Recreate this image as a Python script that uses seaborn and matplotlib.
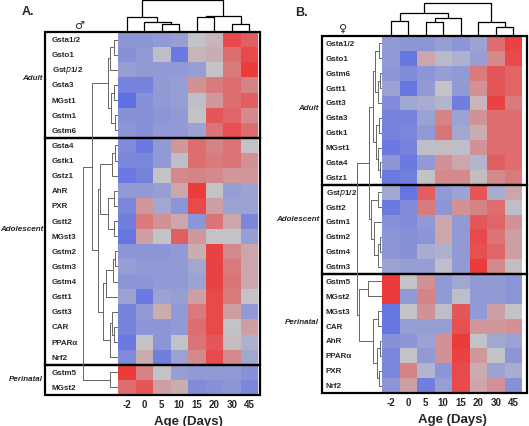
import matplotlib
matplotlib.use("Agg")
import matplotlib.pyplot as plt
from matplotlib.colors import LinearSegmentedColormap
from matplotlib.patches import Rectangle
import pandas as pd
import seaborn as sns

# ---- data ----
ages = ["-2", "0", "5", "10", "15", "20", "30", "45"]

# panel A (male)
genes_a = ["Gsta1/2", "Gsto1", "Gstp1/2", "Gsta3", "MGst1", "Gstm1", "Gstm6",
           "Gsta4", "Gstk1", "Gstz1", "AhR", "PXR", "Gstt2", "MGst3", "Gstm2",
           "Gstm3", "Gstm4", "Gstt1", "Gstt3", "CAR", "PPARα", "Nrf2",
           "Gstm5", "MGst2"]
vals_a = [
    [-0.50, -0.50, -0.45, -0.40, 0.00, 0.10, 0.85, 0.70],
    [-0.55, -0.45, -0.05, -0.80, 0.10, 0.15, 0.60, 0.85],
    [-0.40, -0.45, -0.45, -0.45, -0.40, 0.00, 0.50, 0.95],
    [-0.70, -0.70, -0.45, -0.40, 0.35, 0.50, 0.60, 0.45],
    [-0.90, -0.55, -0.45, -0.40, -0.05, 0.30, 0.60, 0.70],
    [-0.55, -0.55, -0.50, -0.45, 0.00, 0.75, 0.65, 0.40],
    [-0.50, -0.55, -0.45, -0.45, -0.35, 0.55, 0.80, 0.60],
    [-0.60, -0.80, -0.45, 0.30, 0.60, 0.45, 0.55, 0.00],
    [-0.65, -0.65, -0.45, -0.05, 0.60, 0.50, 0.55, 0.35],
    [-0.80, -0.70, 0.00, 0.40, 0.45, 0.40, 0.30, 0.30],
    [-0.45, -0.45, -0.40, 0.20, 0.95, 0.00, -0.40, -0.35],
    [-0.65, 0.30, -0.30, -0.50, 0.85, 0.25, -0.35, -0.35],
    [-0.75, 0.50, 0.35, 0.20, -0.50, 0.55, 0.20, -0.65],
    [-0.85, 0.25, 0.00, 0.70, 0.30, 0.00, 0.00, -0.40],
    [-0.50, -0.50, -0.50, -0.45, 0.15, 0.90, 0.40, 0.20],
    [-0.40, -0.45, -0.45, -0.45, -0.30, 0.90, 0.50, 0.20],
    [-0.50, -0.50, -0.45, -0.45, -0.35, 0.90, 0.55, 0.20],
    [-0.35, -0.80, -0.35, -0.40, 0.25, 0.85, 0.50, 0.00],
    [-0.70, -0.45, 0.15, -0.45, 0.50, 0.85, 0.25, -0.45],
    [-0.70, -0.50, -0.50, -0.45, 0.60, 0.85, 0.00, 0.25],
    [-0.80, 0.00, -0.50, 0.00, 0.55, 0.75, 0.05, -0.20],
    [-0.60, 0.15, -0.75, -0.35, 0.40, 0.85, 0.40, -0.30],
    [0.95, 0.45, 0.00, -0.40, -0.45, -0.45, -0.45, -0.55],
    [0.60, 0.75, 0.25, 0.15, -0.60, -0.55, -0.50, -0.65],
]
groups_a = ["Adult", "Adolescent", "Perinatal"]
group_sizes_a = [7, 15, 2]

# panel B (female)
genes_b = ["Gsta1/2", "Gsto1", "Gstm6", "Gstt1", "Gstt3", "Gsta3", "Gstk1",
           "MGst1", "Gsta4", "Gstz1", "Gstp1/2", "Gstt2", "Gstm1", "Gstm2",
           "Gstm4", "Gstm3", "Gstm5", "MGst2", "MGst3", "CAR", "AhR", "PPARα",
           "PXR", "Nrf2"]
vals_b = [
    [-0.45, -0.50, -0.50, -0.40, -0.50, -0.35, 0.60, 0.90],
    [-0.45, -0.85, 0.20, -0.10, -0.20, -0.40, 0.40, 0.85],
    [-0.50, -0.60, -0.50, -0.40, -0.45, 0.50, 0.75, 0.65],
    [-0.35, -0.85, -0.45, 0.00, -0.45, 0.35, 0.75, 0.65],
    [-0.60, -0.30, -0.25, -0.15, -0.75, 0.10, 0.90, 0.50],
    [-0.70, -0.70, -0.35, 0.45, -0.35, 0.35, 0.60, 0.60],
    [-0.70, -0.65, -0.45, 0.55, -0.30, 0.15, 0.60, 0.60],
    [-0.80, -0.70, -0.05, 0.05, -0.05, 0.35, 0.60, 0.60],
    [-0.50, -0.80, -0.45, 0.35, 0.20, -0.15, 0.70, 0.60],
    [-0.80, -0.75, 0.00, 0.40, 0.40, 0.05, 0.40, 0.50],
    [-0.30, -0.85, 0.70, -0.45, -0.35, 0.75, -0.25, 0.20],
    [-0.80, -0.60, 0.50, -0.50, 0.35, 0.45, 0.60, -0.05],
    [-0.55, -0.60, -0.45, 0.20, -0.45, 0.75, 0.65, 0.35],
    [-0.50, -0.55, -0.50, 0.20, -0.45, 0.85, 0.55, 0.25],
    [-0.50, -0.55, -0.25, -0.20, -0.45, 0.80, 0.65, 0.25],
    [-0.35, -0.40, -0.40, -0.05, -0.45, 0.95, 0.40, 0.05],
    [0.95, 0.00, 0.35, -0.45, -0.30, -0.45, -0.45, -0.50],
    [0.95, -0.45, 0.45, -0.45, -0.05, -0.45, -0.45, -0.50],
    [-0.85, 0.00, 0.35, -0.05, 0.75, -0.45, 0.25, 0.00],
    [-0.85, -0.40, -0.40, -0.40, 0.80, 0.30, 0.30, 0.35],
    [-0.55, -0.50, -0.35, 0.35, 0.95, 0.00, -0.30, -0.35],
    [-0.65, 0.00, -0.45, 0.35, 0.90, 0.30, 0.00, -0.50],
    [-0.65, 0.45, -0.15, -0.50, 0.85, 0.15, -0.35, -0.25],
    [-0.50, 0.25, -0.75, -0.40, 0.85, 0.20, 0.35, -0.55],
]
groups_b = ["Adult", "Adolescent", "Perinatal"]
group_sizes_b = [10, 6, 8]

# dendrograms: (left, right, merge height)
col_tree_a = (("-2", ("0", ("5", "10", 8), 10), 15),
              (("15", "20", 15), ("30", "45", 8), 16), 32)
col_tree_b = ((("-2", "0", 15), (("5", "10", 14), "15", 18), 23),
              ("20", ("30", "45", 9), 14), 33)

adult_a = ((("Gsta1/2", "Gsto1", 4), "Gstp1/2", 8),
           (("Gsta3", "MGst1", 4), ("Gstm1", "Gstm6", 3), 7), 10)
adol_a = (((("Gsta4", "Gstk1", 3), "Gstz1", 6),
           (("AhR", "PXR", 4), ("Gstt2", "MGst3", 4), 10), 18),
          (((("Gstm2", "Gstm3", 3), "Gstm4", 5), "Gstt1", 12),
           (("Gstt3", ("CAR", "PPARα", 4), 6), "Nrf2", 8), 15), 20)
peri_a = ("Gstm5", "MGst2", 8)
row_tree_a = ((adult_a, adol_a, 26), peri_a, 35)

adult_b = ((("Gsta1/2", "Gsto1", 3), (("Gstm6", "Gstt1", 2), "Gstt3", 4), 7),
           (("Gsta3", "Gstk1", 3), ("MGst1", ("Gsta4", "Gstz1", 2), 4), 6), 9)
adol_b = (("Gstp1/2", "Gstt2", 4),
          ("Gstm1", (("Gstm2", "Gstm4", 2), "Gstm3", 4), 8), 11)
peri_b = (("Gstm5", "MGst2", 14),
          (("MGst3", "CAR", 4), (("AhR", "PPARα", 2), ("PXR", "Nrf2", 3), 5), 9), 23)
row_tree_b = ((adult_b, adol_b, 13), peri_b, 25)

# ---- style ----
sns.set_style("white")
plt.rcParams['font.family'] = ['Liberation Sans', 'DejaVu Sans']
cmap = LinearSegmentedColormap.from_list("bgr", ["#5468e6", "#c3c3c7", "#ee3434"])

W, H = 529, 427


def fig_rect(x0, y0, x1, y1):
    # pixel box (top-left origin) -> figure fraction
    return [x0 / W, 1 - y1 / H, (x1 - x0) / W, (y1 - y0) / H]


def draw_tree(ax, node, pos, orient, color, lw):
    if isinstance(node, str):
        return pos[node], 0.0
    left, right, h = node
    p1, h1 = draw_tree(ax, left, pos, orient, color, lw)
    p2, h2 = draw_tree(ax, right, pos, orient, color, lw)
    a = [p1, p1, p2, p2]
    b = [h1, h, h, h2]
    if orient == "top":
        ax.plot(a, b, color=color, lw=lw, solid_capstyle="butt")
    else:
        ax.plot(b, a, color=color, lw=lw, solid_capstyle="butt")
    return (p1 + p2) / 2, h


def panel(fig, genes, vals, groups, sizes, col_tree, row_tree, px, label, symbol, sym_xy):
    hx0, hy0, hx1, hy1, box_l, box_r, lab_x, grp_x, grp_y, dend_x0 = px
    df = pd.DataFrame(vals, index=genes, columns=ages)
    ax = fig.add_axes(fig_rect(hx0, hy0, hx1, hy1))
    sns.heatmap(df, ax=ax, cmap=cmap, vmin=-1, vmax=1, cbar=False,
                xticklabels=True, yticklabels=False)
    ax.tick_params(length=0, pad=3)
    ax.set_xticklabels(ages, rotation=0, fontsize=7, fontweight="bold")
    ax.set_xlabel("Age (Days)", fontsize=9.5, fontweight="bold", labelpad=4)
    ax.set_ylabel("")
    cw = (hx1 - hx0) / len(ages)
    # group boxes
    start = 0
    for g, n, gy in zip(groups, sizes, grp_y):
        ax.add_patch(Rectangle(((box_l - hx0) / cw, start), (box_r - box_l) / cw, n,
                               fill=False, ec="black", lw=1.6, clip_on=False, zorder=5))
        ax.text((grp_x - hx0) / cw, gy, g, ha="right", va="center", fontsize=5.8,
                fontweight="bold", fontstyle="italic")
        start += n
    for i, gname in enumerate(genes):
        t = gname.replace("Gstp", r"Gst$\it{p}$")
        ax.text((lab_x - hx0) / cw, i + 0.5, t, ha="left", va="center",
                fontsize=5.8, fontweight="bold")

    # column dendrogram
    axc = fig.add_axes(fig_rect(hx0, 0, hx1, hy0))
    axc.set_xlim(0, len(ages))
    axc.set_ylim(0, hy0)
    draw_tree(axc, col_tree, {a: i + 0.5 for i, a in enumerate(ages)}, "top", "black", 0.9)
    axc.axis("off")

    # row dendrogram
    axr = fig.add_axes(fig_rect(dend_x0, hy0, hx0, hy1))
    axr.set_ylim(len(genes), 0)
    axr.set_xlim(hx0 - dend_x0, 0)
    draw_tree(axr, row_tree, {gname: i + 0.5 for i, gname in enumerate(genes)}, "left", "#666666", 0.7)
    axr.axis("off")

    fig.text(label[1] / W, 1 - label[2] / H, label[0], fontsize=9, fontweight="bold",
             ha="left", va="center")
    fig.text(sym_xy[0] / W, 1 - sym_xy[1] / H, symbol, fontsize=8, ha="center",
             va="center", family=["DejaVu Sans"])


fig = plt.figure(figsize=(5.29, 4.27), dpi=100)

panel(fig, genes_a, vals_a, groups_a, group_sizes_a, col_tree_a, row_tree_a,
      (118, 33, 258, 396, 45, 260, 52, 43, [3.0, 13.0, 22.9], 82),
      ("A.", 22, 12), "♂", (79, 26))
panel(fig, genes_b, vals_b, groups_b, group_sizes_b, col_tree_b, row_tree_b,
      (382, 37, 522, 394, 322, 527, 326, 319, [4.8, 12.3, 19.2], 356),
      ("B.", 295, 13), "♀", (343, 29))

fig.savefig("out.png", dpi=100)
